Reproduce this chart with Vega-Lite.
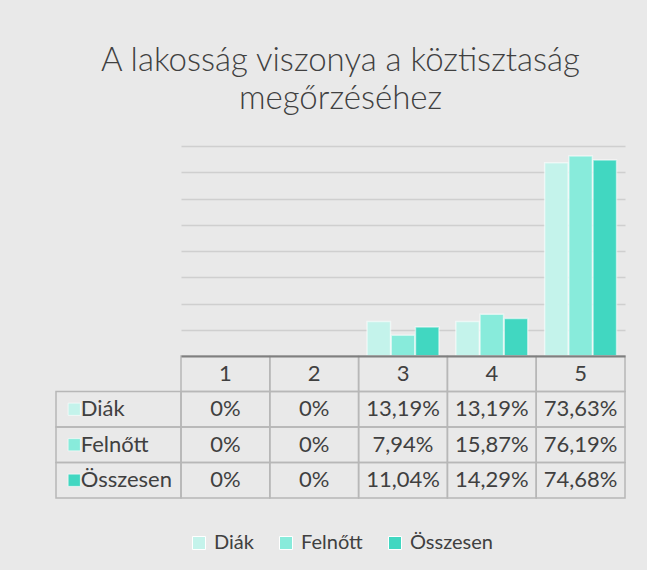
{
  "$schema": "https://vega.github.io/schema/vega-lite/v6.json",
  "background": "#e9e9e9",
  "padding": {"left": 55, "right": 23, "top": 45, "bottom": 17},
  "datasets": {
    "d": [
      {"k": "1", "s": "Diák", "v": 0},
      {"k": "1", "s": "Felnőtt", "v": 0},
      {"k": "1", "s": "Összesen", "v": 0},
      {"k": "2", "s": "Diák", "v": 0},
      {"k": "2", "s": "Felnőtt", "v": 0},
      {"k": "2", "s": "Összesen", "v": 0},
      {"k": "3", "s": "Diák", "v": 13.19},
      {"k": "3", "s": "Felnőtt", "v": 7.94},
      {"k": "3", "s": "Összesen", "v": 11.04},
      {"k": "4", "s": "Diák", "v": 13.19},
      {"k": "4", "s": "Felnőtt", "v": 15.87},
      {"k": "4", "s": "Összesen", "v": 14.29},
      {"k": "5", "s": "Diák", "v": 73.63},
      {"k": "5", "s": "Felnőtt", "v": 76.19},
      {"k": "5", "s": "Összesen", "v": 74.68}
    ]
  },
  "title": {
    "text": ["A lakosság viszonya a köztisztaság", "megőrzéséhez"],
    "font": "Lato",
    "fontWeight": 300,
    "fontSize": 33,
    "lineHeight": 38,
    "color": "#404040",
    "anchor": "middle",
    "offset": 30
  },
  "config": {
    "view": {"stroke": null},
    "font": "Lato",
    "legend": {"layout": {"bottom": {"anchor": "middle"}}}
  },
  "columns": 2,
  "spacing": 0,
  "bounds": "flush",
  "concat": [
    {
      "width": 125,
      "height": 210,
      "data": {"values": []},
      "mark": {"type": "text"},
      "encoding": {}
    },
    {
      "width": 444,
      "height": 210,
      "data": {"name": "d"},
      "mark": {"type": "bar", "stroke": "#ffffff", "strokeOpacity": 0.55, "strokeWidth": 1.5},
      "encoding": {
        "x": {"field": "k", "type": "nominal", "scale": {"paddingInner": 0.19, "paddingOuter": 0.095}, "axis": null},
        "xOffset": {"field": "s", "type": "nominal", "sort": ["Diák", "Felnőtt", "Összesen"], "scale": {"paddingInner": 0.03}},
        "y": {
          "field": "v", "type": "quantitative",
          "scale": {"domain": [0, 80], "nice": false},
          "axis": {"values": [10, 20, 30, 40, 50, 60, 70, 80], "labels": false, "ticks": false, "domain": false, "title": null, "gridColor": "#cfcfcf", "gridWidth": 1.5}
        },
        "color": {
          "field": "s", "type": "nominal",
          "scale": {"domain": ["Diák", "Felnőtt", "Összesen"], "range": ["#c4f3eb", "#88ebdb", "#41d7c1"]},
          "legend": {"orient": "bottom", "direction": "horizontal", "title": null, "symbolType": "square", "symbolSize": 169, "labelFontSize": 20, "labelFont": "Lato", "labelColor": "#404040", "columnPadding": 22, "labelOffset": 5, "offset": 34, "symbolStrokeColor": "#ffffff", "symbolStrokeWidth": 1}
        }
      }
    },
    {
      "width": 125,
      "height": 142,
      "data": {"name": "d"},
      "transform": [{"filter": "datum.k === '1'"}],
      "encoding": {
        "y": {"field": "s", "type": "nominal", "scale": {"domain": ["h", "Diák", "Felnőtt", "Összesen"], "paddingInner": 0, "paddingOuter": 0}, "axis": null}
      },
      "layer": [
        {"mark": {"type": "rect", "fill": "#ffffff", "fillOpacity": 0, "stroke": "#b7b7b7", "strokeWidth": 1.5}},
        {
          "mark": {"type": "point", "shape": "square", "filled": true, "opacity": 1, "size": 150, "stroke": "#ffffff", "strokeOpacity": 0.6, "strokeWidth": 1},
          "encoding": {
            "x": {"datum": "sq", "type": "nominal", "scale": {"type": "point", "domain": ["sq", "tx"], "range": [15, 28]}, "axis": null},
            "color": {
              "field": "s", "type": "nominal",
              "scale": {"domain": ["Diák", "Felnőtt", "Összesen"], "range": ["#c4f3eb", "#88ebdb", "#41d7c1"]},
              "legend": {"orient": "bottom", "direction": "horizontal", "title": null, "symbolType": "square", "symbolSize": 169, "labelFontSize": 20, "labelFont": "Lato", "labelColor": "#404040", "columnPadding": 22, "labelOffset": 5, "offset": 34, "symbolStrokeColor": "#ffffff", "symbolStrokeWidth": 1}
            }
          }
        },
        {
          "mark": {"type": "text", "align": "left", "baseline": "middle", "fontSize": 22, "color": "#404040"},
          "encoding": {"x": {"datum": "tx", "type": "nominal"}, "text": {"field": "s"}}
        }
      ]
    },
    {
      "width": 444,
      "height": 142,
      "data": {"name": "d"},
      "transform": [{"calculate": "datum.v === 0 ? '0%' : replace(format(datum.v, '.2f'), '.', ',') + '%'", "as": "lbl"}],
      "encoding": {
        "x": {"field": "k", "type": "nominal", "scale": {"paddingInner": 0, "paddingOuter": 0}, "axis": {"orient": "top", "labels": false, "ticks": false, "title": null, "domainColor": "#7f7f7f", "domainWidth": 2, "zindex": 1}}
      },
      "layer": [
        {
          "mark": {"type": "rect", "fill": "#ffffff", "fillOpacity": 0, "stroke": "#b7b7b7", "strokeWidth": 1.5},
          "encoding": {"y": {"field": "s", "type": "nominal", "scale": {"domain": ["h", "Diák", "Felnőtt", "Összesen"], "paddingInner": 0, "paddingOuter": 0}, "axis": null}}
        },
        {
          "transform": [{"filter": "datum.s === 'Diák'"}],
          "mark": {"type": "rect", "fill": "#ffffff", "fillOpacity": 0, "stroke": "#b7b7b7", "strokeWidth": 1.5},
          "encoding": {"y": {"datum": "h", "type": "nominal"}}
        },
        {
          "mark": {"type": "text", "baseline": "middle", "fontSize": 22, "color": "#404040"},
          "encoding": {"y": {"field": "s", "type": "nominal"}, "text": {"field": "lbl"}}
        },
        {
          "transform": [{"filter": "datum.s === 'Diák'"}],
          "mark": {"type": "text", "baseline": "middle", "fontSize": 22, "color": "#404040"},
          "encoding": {"y": {"datum": "h", "type": "nominal"}, "text": {"field": "k"}}
        }
      ]
    }
  ]
}
